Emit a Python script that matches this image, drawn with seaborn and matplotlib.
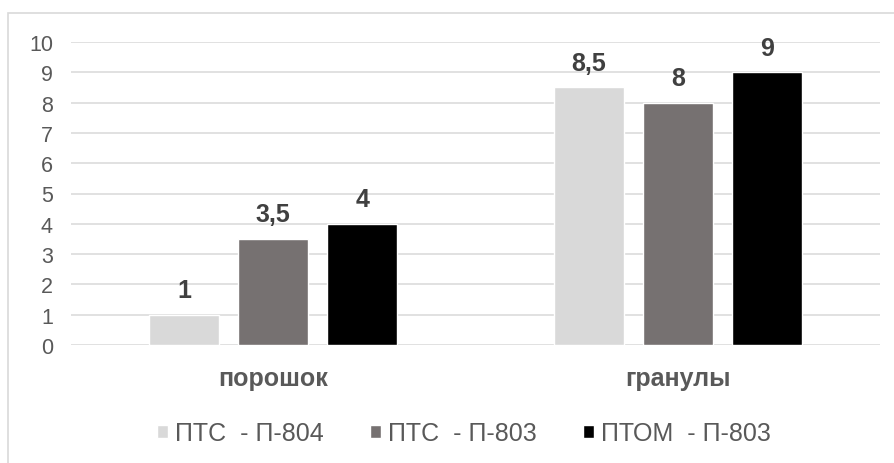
import matplotlib
matplotlib.use("Agg")
import matplotlib.pyplot as plt
from matplotlib.patches import Rectangle
import seaborn as sns
import pandas as pd

categories = ["порошок", "гранулы"]
series = ["ПТС  - П-804", "ПТС  - П-803", "ПТОМ  - П-803"]
values = {
    "ПТС  - П-804": [1, 8.5],
    "ПТС  - П-803": [3.5, 8],
    "ПТОМ  - П-803": [4, 9],
}
colors = ["#d9d9d9", "#767171", "#000000"]
yticks = [0, 1, 2, 3, 4, 5, 6, 7, 8, 9, 10]

rows = []
for s in series:
    for c, v in zip(categories, values[s]):
        rows.append({"form": c, "material": s, "value": v})
df = pd.DataFrame(rows)

sns.set_theme(style="white")
plt.rcParams["font.family"] = ["Liberation Sans", "DejaVu Sans"]

W, H = 894, 464
fig = plt.figure(figsize=(W / 100, H / 100), dpi=100)
fig.patch.set_facecolor("white")

# outer chart frame (open at right and bottom)
fig.patches.append(Rectangle((7.5 / W, -0.1), 2.0, (H - 14) / H + 0.1,
                             transform=fig.transFigure, fill=False,
                             edgecolor="#d9d9d9", linewidth=1.2, zorder=0))

ax = fig.add_axes([71 / W, (H - 346) / H, 809 / W, 303 / H])
sns.barplot(data=df, x="form", y="value", hue="material", order=categories,
            hue_order=series, palette=colors, saturation=1, width=0.66,
            gap=0.21, ax=ax, legend=True, zorder=3)

ax.set_ylim(0, 10)
ax.set_yticks(yticks)
ax.set_yticklabels([str(t) for t in yticks], color="#595959", fontsize=15.5)
ax.tick_params(axis="y", length=0, pad=13)
ax.tick_params(axis="x", length=0, pad=15)
for lab in ax.get_xticklabels():
    lab.set_fontweight("bold")
    lab.set_fontsize(18)
    lab.set_color("#595959")
ax.set_xlabel("")
ax.set_ylabel("")
ax.grid(axis="y", color="#d9d9d9", linewidth=1.1, zorder=0)
ax.set_axisbelow(True)
for sp in ax.spines.values():
    sp.set_visible(False)

def fmt(v):
    s = f"{v:g}"
    return s.replace(".", ",")

for cont in ax.containers:
    ax.bar_label(cont, labels=[fmt(b.get_height()) for b in cont],
                 padding=9, fontsize=18, fontweight="bold", color="#404040")

handles, labels = ax.get_legend_handles_labels()
ax.legend_.remove()
fig.legend(handles, labels, loc="center",
           bbox_to_anchor=(464 / W, 1 - 434 / H), bbox_transform=fig.transFigure,
           ncol=3, frameon=False, borderpad=0, borderaxespad=0,
           handlelength=0.42, handleheight=0.42, handletextpad=0.3,
           columnspacing=1.85, prop={"size": 18},
           labelcolor="#595959")

fig.savefig("out.png", dpi=100, facecolor="white")
